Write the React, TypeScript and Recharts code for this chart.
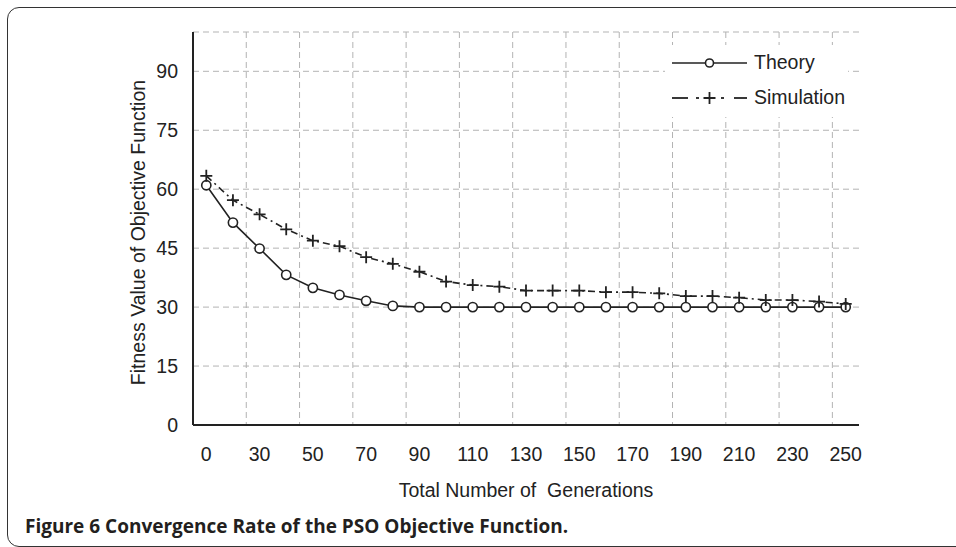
import React from 'react';
import {
  LineChart,
  Line,
  XAxis,
  YAxis,
  CartesianGrid,
  Legend,
} from 'recharts';

// generations on the x axis (every other one gets a label)
const generations = [
  '0', '20', '30', '40', '50', '60', '70', '80', '90', '100', '110', '120', '130',
  '140', '150', '160', '170', '180', '190', '200', '210', '220', '230', '240', '250',
];
const theory = [
  61, 51.5, 44.9, 38.2, 34.9, 33.1, 31.6, 30.3, 30, 30, 30, 30, 30,
  30, 30, 30, 30, 30, 30, 30, 30, 30, 30, 30, 30,
];
const simulation = [
  63.4, 57.2, 53.6, 49.8, 46.9, 45.5, 42.7, 41.0, 39.0, 36.5, 35.6, 35.2, 34.2,
  34.2, 34.2, 33.8, 33.8, 33.5, 32.8, 32.8, 32.4, 31.8, 31.8, 31.4, 30.8,
];
const yTicks = [0, 15, 30, 45, 60, 75, 90];
const seriesOrder = ['theory', 'simulation'];

const data = generations.map((gen, i) => ({
  gen,
  theory: theory[i],
  simulation: simulation[i],
}));

const INK = '#222';
const FONT = '"Liberation Sans", Arial, Helvetica, sans-serif';
const HALF_BAND = 13.3;

const CircleDot = (props: any) => {
  const { cx, cy, index } = props;
  if (cx == null || cy == null) return null;
  return <circle key={`c-${index}`} cx={cx} cy={cy} r={4.6} fill="#fff" stroke={INK} strokeWidth={1.6} />;
};

const CrossDot = (props: any) => {
  const { cx, cy, index } = props;
  if (cx == null || cy == null) return null;
  return (
    <path
      key={`p-${index}`}
      d={`M${cx - 6},${cy}h12M${cx},${cy - 6}v12`}
      stroke={INK}
      strokeWidth={1.8}
      fill="none"
    />
  );
};

const renderLegend = (props: any) => {
  const payload = [...(props.payload || [])].sort(
    (a: any, b: any) => seriesOrder.indexOf(a.dataKey) - seriesOrder.indexOf(b.dataKey),
  );
  return (
    <div style={{ background: '#fff', width: 183, height: 72, fontFamily: FONT, fontSize: 19.5, color: INK }}>
      {payload.map((entry: any) => (
        <div key={entry.value} style={{ display: 'flex', alignItems: 'center', height: 35, paddingLeft: 7 }}>
          <svg width={76} height={20} style={{ marginRight: 6 }}>
            {entry.dataKey === 'theory' ? (
              <g>
                <line x1={0} y1={10} x2={75} y2={10} stroke={INK} strokeWidth={1.6} />
                <circle cx={37.5} cy={10} r={4} fill="#fff" stroke={INK} strokeWidth={1.6} />
              </g>
            ) : (
              <g stroke={INK} strokeWidth={1.8}>
                <line x1={0} y1={10} x2={16} y2={10} />
                <line x1={24} y1={10} x2={27} y2={10} />
                <path d="M31.5,10h12M37.5,4v12" />
                <line x1={49} y1={10} x2={52} y2={10} />
                <line x1={62} y1={10} x2={75} y2={10} />
              </g>
            )}
          </svg>
          <span>{entry.value}</span>
        </div>
      ))}
    </div>
  );
};

const YTitle = (props: any) => {
  const { viewBox } = props;
  const cx = viewBox.x + 145;
  const cy = viewBox.y + viewBox.height / 2 + 4;
  return (
    <text
      x={cx}
      y={cy}
      transform={`rotate(-90, ${cx}, ${cy})`}
      textAnchor="middle"
      fill={INK}
      fontFamily={FONT}
      fontSize={19.5}
    >
      Fitness Value of Objective Function
    </text>
  );
};

export default function App() {
  return (
    <div
      style={{
        position: 'absolute',
        left: 0,
        top: 0,
        width: 956,
        height: 547,
        overflow: 'hidden',
        background: '#fff',
      }}
    >
      {/* figure frame: open on the right like the journal layout */}
      <div
        style={{
          position: 'absolute',
          left: 7,
          top: 7,
          width: 1000,
          height: 540,
          border: '1.6px solid #333',
          borderRadius: 12,
          boxSizing: 'border-box',
        }}
      />
      <div style={{ position: 'absolute', left: 0, top: 0 }}>
        <LineChart
          width={956}
          height={547}
          data={data}
          margin={{ top: 32, right: 97, bottom: 0, left: 0 }}
          style={{ fontFamily: FONT }}
        >
          <CartesianGrid
            stroke="#b3b3b3"
            strokeDasharray="6 4"
            strokeWidth={1}
            verticalCoordinatesGenerator={({ offset }: any) => {
              const band = offset.width / generations.length;
              const lines: number[] = [];
              for (let j = 2; j < generations.length; j += 2) lines.push(offset.left + j * band);
              return lines;
            }}
          />
          <XAxis
            dataKey="gen"
            type="category"
            height={122}
            interval={1}
            padding={{ left: HALF_BAND, right: HALF_BAND }}
            tickLine={false}
            tickSize={0}
            tickMargin={22}
            axisLine={{ stroke: INK, strokeWidth: 2 }}
            tick={{ fill: INK, fontSize: 19.5, fontFamily: FONT }}
            label={{
              value: 'Total Number of\u00a0 Generations',
              position: 'insideBottom',
              offset: 50,
              fill: INK,
              fontSize: 19.5,
              fontFamily: FONT,
            }}
          />
          <XAxis
            xAxisId="top"
            dataKey="gen"
            orientation="top"
            height={0}
            tick={false}
            tickLine={false}
            axisLine={{ stroke: INK, strokeWidth: 2 }}
          />
          <YAxis
            domain={[0, 100]}
            ticks={yTicks}
            width={193}
            tickLine={false}
            tickSize={0}
            tickMargin={15}
            axisLine={{ stroke: INK, strokeWidth: 2 }}
            tick={{ fill: INK, fontSize: 19.5, fontFamily: FONT }}
            label={{ content: (p: any) => <YTitle {...p} /> }}
          />
          <YAxis
            yAxisId="right"
            orientation="right"
            width={0}
            tick={false}
            tickLine={false}
            axisLine={{ stroke: INK, strokeWidth: 2 }}
          />
          <Legend
            layout="vertical"
            align="center"
            verticalAlign="middle"
            content={renderLegend}
            wrapperStyle={{ left: 665, top: 45, width: 183, height: 72 }}
          />
          <Line
            dataKey="theory"
            name="Theory"
            stroke={INK}
            strokeWidth={1.6}
            dot={CircleDot}
            activeDot={false}
            isAnimationActive={false}
          />
          <Line
            dataKey="simulation"
            name="Simulation"
            stroke={INK}
            strokeWidth={1.6}
            strokeDasharray="7 4 2 4"
            dot={CrossDot}
            activeDot={false}
            isAnimationActive={false}
          />
        </LineChart>
      </div>
      <div
        style={{
          position: 'absolute',
          left: 25,
          top: 513,
          fontFamily: '"Open Sans", sans-serif',
          fontWeight: 700,
          fontSize: 19,
          color: '#231f20',
          whiteSpace: 'nowrap',
        }}
      >
        Figure 6 Convergence Rate of the PSO Objective Function.
      </div>
    </div>
  );
}
